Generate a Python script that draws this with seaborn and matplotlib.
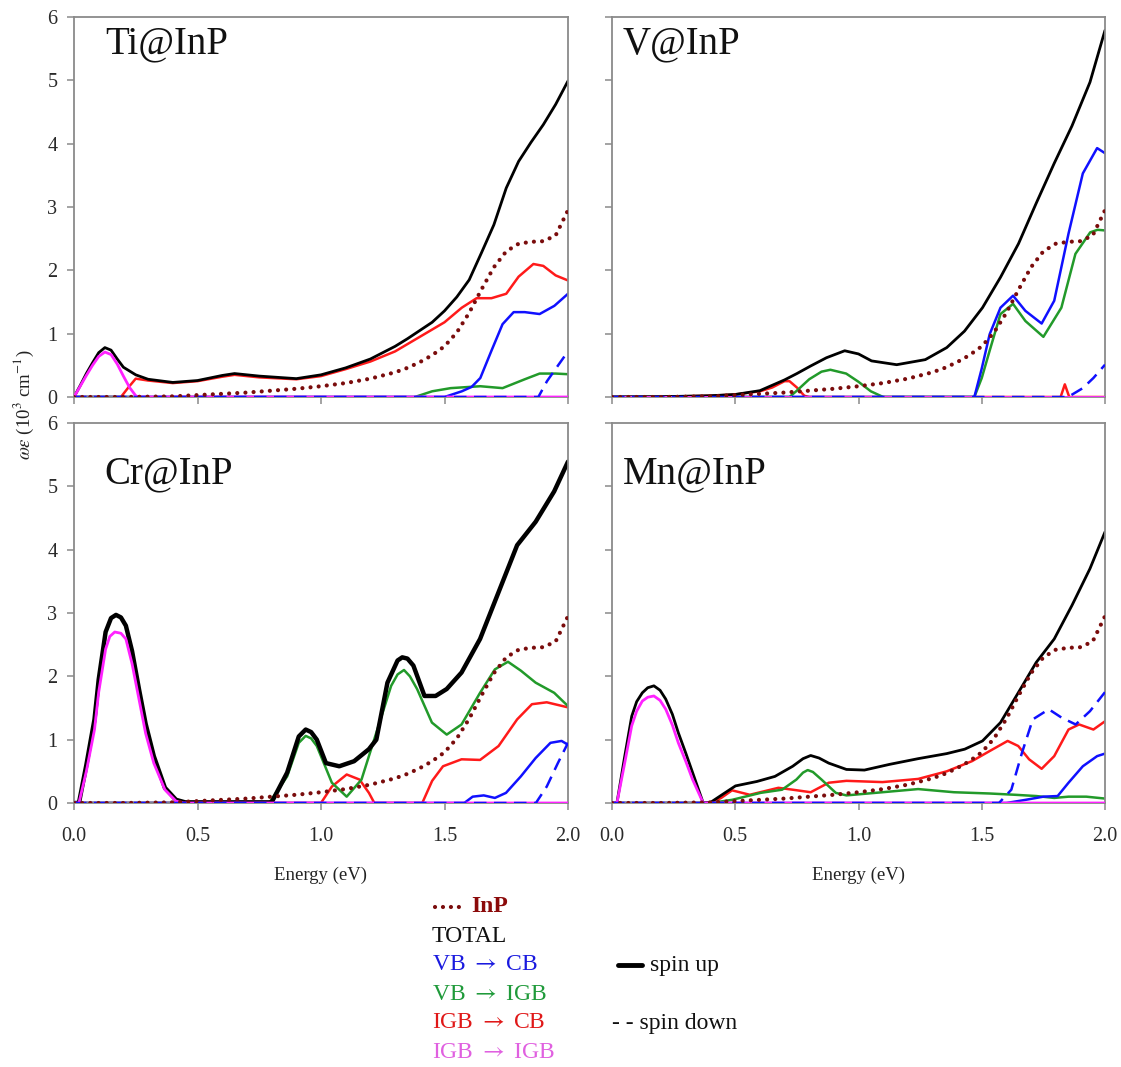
import numpy as np
import pandas as pd
import matplotlib
matplotlib.use("Agg")
import matplotlib.pyplot as plt
from matplotlib.lines import Line2D
from matplotlib.ticker import FormatStrFormatter
import seaborn as sns

# ---------------- data ----------------
inp_E = [0.0, 0.1, 0.2, 0.3, 0.4, 0.5, 0.6, 0.7, 0.8, 0.9, 1.0, 1.1, 1.2, 1.3, 1.35, 1.4,
         1.45, 1.5, 1.55, 1.6, 1.65, 1.7, 1.75, 1.8, 1.85, 1.9, 1.95, 1.975, 2.0]
inp_eps = [0, 0, 0, 0.005, 0.01, 0.03, 0.05, 0.07, 0.1, 0.13, 0.17, 0.22, 0.29, 0.39, 0.46, 0.55,
           0.66, 0.8, 1.02, 1.33, 1.7, 2.05, 2.3, 2.42, 2.45, 2.46, 2.55, 2.75, 2.95]

# Ti@InP
ti_total_E = [0, 0.025, 0.05, 0.075, 0.1, 0.125, 0.15, 0.175, 0.2, 0.25, 0.3, 0.4, 0.5, 0.6, 0.65,
              0.75, 0.9, 1.0, 1.1, 1.2, 1.3, 1.35, 1.4, 1.45, 1.5, 1.55, 1.6, 1.65, 1.7, 1.75,
              1.8, 1.85, 1.9, 1.95, 2.0]
ti_total = [0, 0.18, 0.37, 0.54, 0.7, 0.78, 0.74, 0.6, 0.47, 0.35, 0.28, 0.23, 0.26, 0.34, 0.37,
            0.33, 0.29, 0.35, 0.46, 0.6, 0.8, 0.92, 1.05, 1.18, 1.36, 1.58, 1.85, 2.28, 2.72, 3.3,
            3.72, 4.02, 4.3, 4.62, 4.99]
ti_red_E = [0, 0.19, 0.22, 0.25, 0.3, 0.4, 0.5, 0.6, 0.65, 0.75, 0.9, 1.0, 1.1, 1.2, 1.3, 1.4,
            1.5, 1.57, 1.63, 1.69, 1.75, 1.8, 1.86, 1.9, 1.95, 2.0]
ti_red = [0, 0, 0.15, 0.29, 0.26, 0.22, 0.25, 0.32, 0.35, 0.31, 0.28, 0.33, 0.44, 0.56, 0.72, 0.95,
          1.18, 1.41, 1.56, 1.56, 1.63, 1.9, 2.1, 2.07, 1.92, 1.84]
ti_mag_E = [0, 0.025, 0.05, 0.075, 0.1, 0.125, 0.15, 0.175, 0.2, 0.225, 0.25, 0.26, 2.0]
ti_mag = [0, 0.17, 0.34, 0.5, 0.64, 0.71, 0.67, 0.52, 0.33, 0.15, 0.02, 0, 0]
ti_blue_E = [0, 1.5, 1.57, 1.61, 1.645, 1.69, 1.735, 1.78, 1.825, 1.885, 1.945, 2.0]
ti_blue = [0, 0, 0.09, 0.16, 0.3, 0.73, 1.15, 1.34, 1.34, 1.31, 1.44, 1.63]
ti_blue_dn_E = [0, 1.88, 1.915, 1.96, 2.0]
ti_blue_dn = [0, 0, 0.25, 0.5, 0.72]
ti_green_E = [0, 1.38, 1.45, 1.525, 1.645, 1.735, 1.825, 1.885, 1.95, 2.0]
ti_green = [0, 0, 0.09, 0.14, 0.17, 0.14, 0.28, 0.37, 0.37, 0.36]

# V@InP
v_total_E = [0, 0.2, 0.4, 0.5, 0.6, 0.7, 0.75, 0.806, 0.87, 0.944, 1.0, 1.053, 1.155, 1.271,
             1.358, 1.43, 1.503, 1.576, 1.649, 1.721, 1.794, 1.866, 1.939, 2.0]
v_total = [0, 0.005, 0.02, 0.04, 0.1, 0.27, 0.37, 0.49, 0.62, 0.73, 0.68, 0.57, 0.51, 0.59,
           0.78, 1.04, 1.41, 1.89, 2.42, 3.06, 3.69, 4.28, 4.97, 5.79]
v_red_E = [0, 0.2, 0.4, 0.5, 0.6, 0.65, 0.7, 0.72, 0.75, 0.78, 0.8, 1.82, 1.837, 1.855, 2.0]
v_red = [0, 0.005, 0.02, 0.04, 0.09, 0.15, 0.25, 0.25, 0.15, 0.02, 0, 0, 0.2, 0, 0]
v_green_E = [0, 0.72, 0.75, 0.8, 0.85, 0.886, 0.95, 1.0, 1.05, 1.1, 1.47, 1.5, 1.532, 1.576,
             1.627, 1.677, 1.75, 1.823, 1.88, 1.94, 1.97, 2.0]
v_green = [0, 0, 0.1, 0.28, 0.4, 0.43, 0.37, 0.24, 0.09, 0, 0, 0.3, 0.73, 1.31,
           1.47, 1.2, 0.95, 1.41, 2.26, 2.6, 2.64, 2.63]
v_blue_E = [0, 1.47, 1.5, 1.532, 1.576, 1.627, 1.677, 1.743, 1.794, 1.852, 1.91, 1.968, 2.0]
v_blue = [0, 0, 0.45, 0.99, 1.41, 1.6, 1.36, 1.16, 1.52, 2.58, 3.53, 3.93, 3.85]
v_blue_dn_E = [0, 1.85, 1.91, 1.953, 2.0]
v_blue_dn = [0, 0, 0.14, 0.3, 0.51]
v_mag_E = [0, 2.0]
v_mag = [0, 0]

# Cr@InP
cr_total_E = [0, 0.02, 0.05, 0.083, 0.1, 0.128, 0.15, 0.17, 0.19, 0.21, 0.235, 0.263, 0.29,
              0.323, 0.368, 0.413, 0.45, 0.8, 0.863, 0.91, 0.938, 0.96, 0.983, 1.02, 1.074,
              1.134, 1.194, 1.224, 1.269, 1.31, 1.329, 1.35, 1.374, 1.419, 1.464, 1.509, 1.569,
              1.644, 1.719, 1.794, 1.869, 1.944, 2.0]
cr_total = [0, 0, 0.6, 1.32, 1.95, 2.7, 2.92, 2.97, 2.93, 2.8, 2.4, 1.8, 1.25,
            0.74, 0.24, 0.05, 0.01, 0.01, 0.48, 1.05, 1.16, 1.12, 1.0, 0.63, 0.58,
            0.66, 0.85, 1.0, 1.9, 2.25, 2.3, 2.28, 2.17, 1.69, 1.69, 1.8, 2.06,
            2.59, 3.33, 4.07, 4.44, 4.92, 5.39]
cr_mag_E = [0, 0.02, 0.05, 0.083, 0.1, 0.128, 0.145, 0.165, 0.19, 0.21, 0.235, 0.263, 0.29,
            0.323, 0.368, 0.413, 0.443, 2.0]
cr_mag = [0, 0, 0.5, 1.16, 1.75, 2.43, 2.63, 2.7, 2.68, 2.59, 2.2, 1.64, 1.1,
          0.63, 0.21, 0.03, 0, 0]
cr_green_E = [0, 0.79, 0.863, 0.91, 0.938, 0.96, 0.983, 1.044, 1.104, 1.164, 1.224, 1.284,
              1.31, 1.336, 1.36, 1.389, 1.449, 1.509, 1.569, 1.644, 1.704, 1.757, 1.809, 1.869,
              1.944, 2.0]
cr_green = [0, 0, 0.42, 0.95, 1.06, 1.02, 0.9, 0.32, 0.1, 0.37, 1.11, 1.85,
            2.03, 2.1, 2.0, 1.8, 1.27, 1.08, 1.24, 1.74, 2.11, 2.23, 2.09, 1.9,
            1.74, 1.53]
cr_red_E = [0, 1.0, 1.044, 1.104, 1.156, 1.194, 1.216, 1.41, 1.45, 1.494, 1.569, 1.644, 1.719,
            1.794, 1.854, 1.914, 2.0]
cr_red = [0, 0, 0.26, 0.45, 0.37, 0.16, 0, 0, 0.35, 0.58, 0.69, 0.68, 0.9,
          1.32, 1.56, 1.59, 1.51]
cr_blue_E = [0, 1.58, 1.614, 1.659, 1.704, 1.749, 1.809, 1.869, 1.929, 1.974, 2.0]
cr_blue = [0, 0, 0.1, 0.12, 0.08, 0.16, 0.42, 0.71, 0.95, 0.98, 0.92]
cr_blue_dn_E = [0, 1.87, 1.914, 1.959, 2.0]
cr_blue_dn = [0, 0, 0.26, 0.63, 0.95]

# Mn@InP
mn_total_E = [0, 0.02, 0.05, 0.08, 0.1, 0.123, 0.145, 0.17, 0.195, 0.218, 0.245, 0.269, 0.3,
              0.327, 0.37, 0.4, 0.458, 0.501, 0.588, 0.661, 0.733, 0.775, 0.806, 0.84, 0.879,
              0.951, 1.024, 1.126, 1.242, 1.358, 1.431, 1.503, 1.576, 1.648, 1.721, 1.794,
              1.866, 1.939, 2.0]
mn_total = [0, 0, 0.7, 1.37, 1.6, 1.74, 1.82, 1.85, 1.78, 1.64, 1.4, 1.11, 0.78,
            0.48, 0, 0.01, 0.16, 0.27, 0.34, 0.42, 0.58, 0.7, 0.75, 0.71, 0.63,
            0.53, 0.52, 0.61, 0.7, 0.78, 0.85, 0.98, 1.27, 1.74, 2.22, 2.59,
            3.12, 3.7, 4.28]
mn_mag_E = [0, 0.02, 0.05, 0.08, 0.1, 0.123, 0.145, 0.17, 0.195, 0.218, 0.245, 0.269, 0.3,
            0.327, 0.37, 2.0]
mn_mag = [0, 0, 0.6, 1.22, 1.45, 1.61, 1.67, 1.69, 1.62, 1.48, 1.23, 0.95, 0.65,
          0.37, 0, 0]
mn_green_E = [0, 0.4, 0.487, 0.603, 0.69, 0.748, 0.775, 0.794, 0.815, 0.85, 0.908, 0.951,
              1.097, 1.242, 1.387, 1.532, 1.634, 1.721, 1.794, 1.852, 1.924, 2.0]
mn_green = [0, 0, 0.05, 0.16, 0.21, 0.37, 0.48, 0.52, 0.49, 0.37, 0.16, 0.12,
            0.17, 0.22, 0.17, 0.15, 0.13, 0.11, 0.08, 0.1, 0.1, 0.07]
mn_red_E = [0, 0.4, 0.443, 0.487, 0.559, 0.675, 0.733, 0.806, 0.879, 0.951, 1.097, 1.242,
            1.358, 1.46, 1.532, 1.605, 1.648, 1.692, 1.743, 1.794, 1.852, 1.895, 1.953, 2.0]
mn_red = [0, 0, 0.08, 0.2, 0.13, 0.24, 0.21, 0.17, 0.32, 0.35, 0.33, 0.38,
          0.5, 0.66, 0.82, 0.98, 0.9, 0.69, 0.54, 0.74, 1.16, 1.24, 1.16, 1.29]
mn_blue_E = [0, 1.6, 1.678, 1.75, 1.808, 1.852, 1.91, 1.968, 2.0]
mn_blue = [0, 0, 0.05, 0.1, 0.11, 0.32, 0.58, 0.74, 0.78]
mn_blue_dn_E = [0, 1.57, 1.62, 1.663, 1.707, 1.772, 1.823, 1.881, 1.939, 2.0]
mn_blue_dn = [0, 0, 0.21, 0.79, 1.32, 1.48, 1.35, 1.24, 1.45, 1.75]

panel_names = ["Ti@InP", "V@InP", "Cr@InP", "Mn@InP"]
x_ticks = [0.0, 0.5, 1.0, 1.5, 2.0]
y_ticks = [0, 1, 2, 3, 4, 5, 6]
legend_labels = ["InP", "TOTAL", r"VB $\rightarrow$ CB", r"VB $\rightarrow$ IGB",
                 r"IGB $\rightarrow$ CB", r"IGB $\rightarrow$ IGB"]

# ---------------- style ----------------
sns.set_style("ticks")
plt.rcParams["font.family"] = ["Liberation Serif", "DejaVu Serif"]
plt.rcParams["mathtext.fontset"] = "stix"

C_INP = "#7a0c0c"
C_TOT = "#000000"
C_BLUE = "#1010ff"
C_GREEN = "#229a2a"
C_RED = "#ff1a1a"
C_MAG = "#ff22ff"
SPINE = "#8a8a8a"

W, H = 1121, 1067
fig = plt.figure(figsize=(W / 100, H / 100), dpi=100)


def fx(px):
    return px / W


def fy(py):
    return 1 - py / H


rects = [
    (fx(74), fy(397), 494 / W, 380 / H),
    (fx(612), fy(397), 493 / W, 380 / H),
    (fx(74), fy(803), 494 / W, 380 / H),
    (fx(612), fy(803), 493 / W, 380 / H),
]

panels = [
    dict(total=(ti_total_E, ti_total), red=(ti_red_E, ti_red), green=(ti_green_E, ti_green),
         blue=(ti_blue_E, ti_blue), mag=(ti_mag_E, ti_mag), bdn=(ti_blue_dn_E, ti_blue_dn), tw=2.0),
    dict(total=(v_total_E, v_total), red=(v_red_E, v_red), green=(v_green_E, v_green),
         blue=(v_blue_E, v_blue), mag=(v_mag_E, v_mag), bdn=(v_blue_dn_E, v_blue_dn), tw=2.0),
    dict(total=(cr_total_E, cr_total), red=(cr_red_E, cr_red), green=(cr_green_E, cr_green),
         blue=(cr_blue_E, cr_blue), mag=(cr_mag_E, cr_mag), bdn=(cr_blue_dn_E, cr_blue_dn), tw=3.2),
    dict(total=(mn_total_E, mn_total), red=(mn_red_E, mn_red), green=(mn_green_E, mn_green),
         blue=(mn_blue_E, mn_blue), mag=(mn_mag_E, mn_mag), bdn=(mn_blue_dn_E, mn_blue_dn), tw=2.0),
]

label_pos = [(0.063, 0.929), (0.022, 0.929), (0.061, 0.866), (0.022, 0.866)]

for i, (rect, p) in enumerate(zip(rects, panels)):
    ax = fig.add_axes(rect)
    common = dict(ax=ax, estimator=None, sort=False, legend=False)
    sns.lineplot(x=p["red"][0], y=p["red"][1], color=C_RED, linewidth=1.8, zorder=2.0, **common)
    sns.lineplot(x=p["green"][0], y=p["green"][1], color=C_GREEN, linewidth=1.8, zorder=2.1, **common)
    sns.lineplot(x=p["blue"][0], y=p["blue"][1], color=C_BLUE, linewidth=1.8, zorder=2.2, **common)
    sns.lineplot(x=p["total"][0], y=p["total"][1], color=C_TOT, linewidth=p["tw"], zorder=2.3, **common)
    sns.lineplot(x=p["mag"][0], y=p["mag"][1], color=C_MAG, linewidth=2.0, zorder=2.6, **common)
    sns.lineplot(x=p["bdn"][0], y=p["bdn"][1], color=C_BLUE, linewidth=1.8,
                 linestyle=(0, (5, 3)), zorder=2.8, **common)
    sns.lineplot(x=inp_E, y=inp_eps, color=C_INP, linewidth=3.0,
                 linestyle=(0, (0.01, 1.95)), dash_capstyle="round", zorder=3.0, **common)

    ax.set_xlim(0, 2.0)
    ax.set_ylim(0, 6)
    ax.set_xticks(x_ticks)
    ax.set_yticks(y_ticks)
    ax.xaxis.set_major_formatter(FormatStrFormatter("%.1f"))
    ax.set_xlabel("")
    ax.set_ylabel("")
    for s in ax.spines.values():
        s.set_visible(True)
        s.set_color(SPINE)
        s.set_linewidth(1.3)
    ax.tick_params(direction="out", length=5, width=1.1, color=SPINE,
                   labelsize=14.5, labelcolor="#2a2a2a")
    ax.tick_params(axis="x", pad=12)
    ax.tick_params(axis="y", pad=7)
    if i < 2:
        ax.tick_params(axis="x", labelbottom=False)
    if i % 2 == 1:
        ax.tick_params(axis="y", labelleft=False)
    ax.text(label_pos[i][0], label_pos[i][1], panel_names[i], transform=ax.transAxes,
            fontsize=28, ha="left", va="center", color="#111111")

# axis titles
fig.text(fx(321), fy(875), "Energy (eV)", ha="center", va="center", fontsize=13.5, color="#222222")
fig.text(fx(858), fy(875), "Energy (eV)", ha="center", va="center", fontsize=13.5, color="#222222")
fig.text(fx(24), fy(405), r"$\omega\varepsilon$ (10$^{3}$ cm$^{-1}$)", rotation=90,
         ha="center", va="center", fontsize=13.5, color="#222222")

# custom legend
rows = [907, 936, 965, 994, 1023, 1052]
leg_colors = [C_INP, "#111111", "#1a1adf", "#1f9a3a", "#e01818", "#e060e0"]
fig.add_artist(Line2D([fx(435), fx(462)], [fy(rows[0])] * 2, transform=fig.transFigure,
                      color=C_INP, linewidth=3.0, linestyle=(0, (0.01, 1.9)),
                      dash_capstyle="round"))
fig.text(fx(471), fy(rows[0]), legend_labels[0], color="#8b0a0a", fontsize=17,
         fontweight="bold", ha="left", va="center")
for k in range(1, 6):
    fig.text(fx(432), fy(rows[k]), legend_labels[k], color=leg_colors[k], fontsize=17,
             ha="left", va="center")
fig.add_artist(Line2D([fx(618), fx(642)], [fy(rows[2])] * 2, transform=fig.transFigure,
                      color="black", linewidth=3.5))
fig.text(fx(650), fy(rows[2]), "spin up", fontsize=17, ha="left", va="center", color="#111111")
fig.text(fx(612), fy(rows[4]), "- - spin down", fontsize=17, ha="left", va="center",
         color="#111111")

fig.savefig("out.png", dpi=100)
